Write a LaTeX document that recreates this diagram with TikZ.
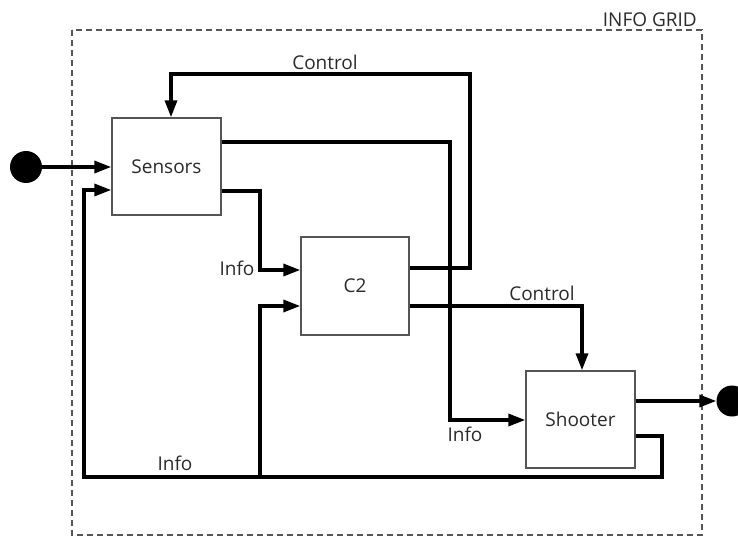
\documentclass[tikz,border=0pt]{standalone}
\usepackage{fontspec}
\setmainfont{Open Sans}
\usetikzlibrary{arrows.meta,calc}
\definecolor{txt}{HTML}{2A2A2A}
\definecolor{boxc}{HTML}{555555}
\begin{document}
\begin{tikzpicture}[x=1pt,y=-1pt,
  blk/.style={draw=boxc,line width=1.4pt,fill=white,minimum width=109pt,minimum height=97pt,inner sep=0pt,text=txt,font=\fontsize{19}{22}\selectfont},
  lbl/.style={text=txt,font=\fontsize{19}{22}\selectfont,inner sep=0pt},
  conn/.style={line width=3.4pt,line cap=butt,line join=miter},
  arr/.style={conn,-{Triangle[length=17pt,width=12pt]}},
  dot/.style={circle,fill=black,minimum size=32pt,inner sep=0pt}]
\useasboundingbox (0,0) rectangle (738,537);
% grid frame
\draw[boxc,line width=1.1pt,dash pattern=on 6pt off 4pt] (72,30) rectangle (702,535);
\node[lbl,anchor=south east] (grid) at (697,27) {INFO GRID};
% blocks
\node[blk] (sensors) at (166.5,166.5) {Sensors};
\node[blk,minimum width=108pt,minimum height=98pt] (c2) at (355,286) {C2};
\node[blk] (shooter) at (580.5,419.5) {Shooter};
\node[dot] (start) at (26,167) {};
\node[dot,minimum size=31pt] (end) at (732,401) {};
% coordinates
\coordinate (j) at (260,477);
% connectors
\draw[arr] (start) -- (sensors.west |- start);
\draw[arr] (c2.east |- 0,268) -| (470,74) -| ([xshift=4.5pt]sensors.north);
\draw[arr] (sensors.east |- 0,142) -| (450,420) -- (shooter.west |- 0,420);
\draw[arr] (sensors.east |- 0,191) -| (260,270) -- (c2.west |- 0,270);
\draw[arr] (c2.east |- 0,306) -| ([xshift=1.5pt]shooter.north);
\draw[arr] (shooter.east |- 0,401) -- (end.west);
\draw[arr] (shooter.east |- 0,436) -| (662,477) -- (j) -- (84,477) |- (sensors.west |- 0,190);
\draw[arr] (j) |- (c2.west |- 0,306);
% labels
\node[lbl] (l1) at (325,62) {Control};
\node[lbl] (l2) at (237,268) {Info};
\node[lbl] (l3) at (542,293) {Control};
\node[lbl] (l4) at (465,434) {Info};
\node[lbl] (l5) at (175,463) {Info};
\end{tikzpicture}
\end{document}
